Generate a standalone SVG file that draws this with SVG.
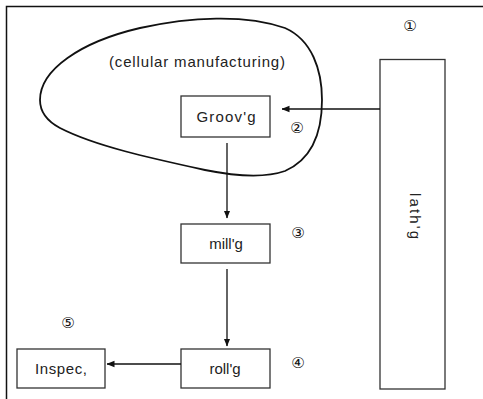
<svg xmlns="http://www.w3.org/2000/svg" width="483" height="399" viewBox="0 0 483 399">
<style>
.box{fill:#fff;stroke:#333;stroke-width:1.3}
.lbl{font-family:"Liberation Sans",Arial,sans-serif;font-size:15px;fill:#222;text-anchor:middle}
.num{font-family:"DejaVu Sans","Noto Sans CJK JP",sans-serif;font-size:15px;fill:#111;text-anchor:middle}
.ln{stroke:#111;stroke-width:1.3;fill:none}
</style>
<defs>
<marker id="ah" viewBox="0 0 8 8" refX="7.5" refY="4" markerWidth="8" markerHeight="8" markerUnits="userSpaceOnUse" orient="auto">
<path d="M0,0.8 L8,4 L0,7.2 Z" fill="#111"/>
</marker>
</defs>
<rect width="483" height="399" fill="#fff"/>
<path d="M6.5,399 V6.5 H483" fill="none" stroke="#111" stroke-width="1.5"/>
<g id="cell">
<path d="M40,100 C40,70 80,42 140,28 C190,17 245,14 285,28 C312,40 322,70 322,100 C322,135 310,160 285,171 C265,178 235,176 205,170 C150,158 95,146 60,128 C45,120 40,110 40,100 Z" fill="none" stroke="#111" stroke-width="1.8"/>
<text class="lbl" x="197" y="67" textLength="176" lengthAdjust="spacing">(cellular manufacturing)</text>
</g>
<g id="lathg">
<rect class="box" x="380" y="59.5" width="65" height="329.5"/>
<text class="lbl" transform="translate(410,216) rotate(90)" textLength="46" lengthAdjust="spacing">lath'g</text>
<text class="num" x="410" y="31">①</text>
</g>
<g id="groovg">
<rect class="box" x="181" y="96" width="89" height="41"/>
<text class="lbl" x="226" y="122" textLength="59" lengthAdjust="spacing">Groov'g</text>
<text class="num" x="297" y="133">②</text>
</g>
<g id="millg">
<rect class="box" x="181" y="224" width="89" height="39"/>
<text class="lbl" x="226" y="249">mill'g</text>
<text class="num" x="298" y="238">③</text>
</g>
<g id="rollg">
<rect class="box" x="181" y="349" width="89" height="39"/>
<text class="lbl" x="225" y="374">roll'g</text>
<text class="num" x="298" y="368">④</text>
</g>
<g id="inspec">
<rect class="box" x="17" y="349" width="88" height="39"/>
<text class="lbl" x="61" y="374" textLength="52" lengthAdjust="spacing">Inspec,</text>
<text class="num" x="68" y="328">⑤</text>
</g>
<g id="connectors">
<line class="ln" x1="380" y1="109" x2="282" y2="109" marker-end="url(#ah)"/>
<line class="ln" x1="227" y1="143" x2="227" y2="218" marker-end="url(#ah)"/>
<line class="ln" x1="227" y1="269" x2="227" y2="346" marker-end="url(#ah)"/>
<line class="ln" x1="181" y1="364" x2="107" y2="364" marker-end="url(#ah)"/>
</g>
</svg>
